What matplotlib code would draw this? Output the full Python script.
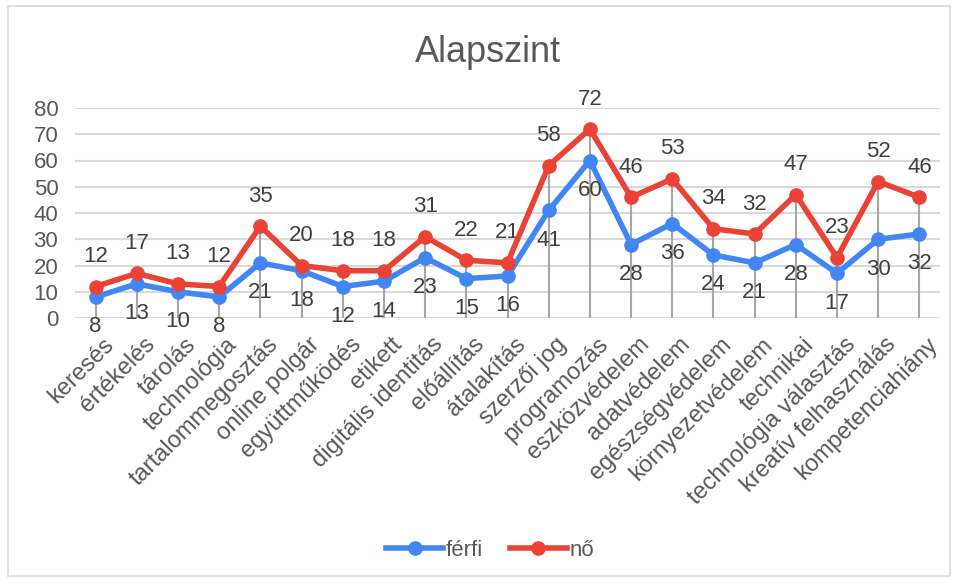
import matplotlib
matplotlib.use("Agg")
import matplotlib.pyplot as plt
import matplotlib.transforms as mtransforms
from matplotlib.patches import Rectangle

categories = ["keresés", "értékelés", "tárolás", "technológia", "tartalommegosztás",
              "online polgár", "együttműködés", "etikett", "digitális identitás",
              "előállítás", "átalakítás", "szerzői jog", "programozás", "eszközvédelem",
              "adatvédelem", "egészségvédelem", "környezetvédelem", "technikai",
              "technológia választás", "kreatív felhasználás", "kompetenciahiány"]
ferfi = [8, 13, 10, 8, 21, 18, 12, 14, 23, 15, 16, 41, 60, 28, 36, 24, 21, 28, 17, 30, 32]
no = [12, 17, 13, 12, 35, 20, 18, 18, 31, 22, 21, 58, 72, 46, 53, 34, 32, 47, 23, 52, 46]
yticks = [0, 10, 20, 30, 40, 50, 60, 70, 80]

plt.rcParams['font.family'] = ['Liberation Sans', 'DejaVu Sans']
txt = '#595959'
blue = '#4285F4'
red = '#EA4335'

fig = plt.figure(figsize=(9.58, 5.84), dpi=100)
ax = fig.add_axes([75/958, 1-318/584, (940-75)/958, (318-108)/584])

x = list(range(len(categories)))
for i in x:
    ax.plot([i, i], [0, max(ferfi[i], no[i])], color='#A6A6A6', lw=1.5, zorder=2)
ax.plot(x, ferfi, color=blue, lw=4, marker='o', ms=9.5, label='férfi', zorder=3)
ax.plot(x, no, color=red, lw=4, marker='o', ms=9.5, label='nő', zorder=4)

for i in x:
    ax.annotate(str(no[i]), (i, no[i]), xytext=(0, 14), textcoords='offset points',
                ha='center', va='bottom', fontsize=16, color='#404040')
    ax.annotate(str(ferfi[i]), (i, ferfi[i]), xytext=(0, -14), textcoords='offset points',
                ha='center', va='top', fontsize=16, color='#404040')

ax.set_xlim(-0.5, len(categories) - 0.5)
ax.set_ylim(0, 80)
ax.set_yticks(yticks)
ax.set_yticklabels([str(v) for v in yticks], fontsize=16, color=txt)
ax.set_xticks(x)
ax.set_xticklabels(categories, rotation=45, ha='right', rotation_mode='anchor',
                   fontsize=17, color=txt)
ax.tick_params(axis='both', length=0)
ax.tick_params(axis='y', pad=12)
ax.tick_params(axis='x', pad=11)
shift = mtransforms.ScaledTranslation(7/100, 0, fig.dpi_scale_trans)
for lab in ax.get_xticklabels():
    lab.set_transform(lab.get_transform() + shift)
ax.grid(axis='y', color='#D9D9D9', lw=1.5)
ax.set_axisbelow(True)
for s in ax.spines.values():
    s.set_visible(False)

fig.text(488/958, 1-52/584, 'Alapszint', ha='center', va='center', fontsize=26, color=txt)

handles, labels = ax.get_legend_handles_labels()
fig.legend(handles, labels, loc='center', bbox_to_anchor=(490/958, 1-550/584), ncol=2,
           frameon=False, fontsize=16, labelcolor=txt, handlelength=2.6,
           handletextpad=0.1, columnspacing=1.2)

fig.patches.append(Rectangle((8/958, 8/584), (950-8)/958, (578-8)/584, transform=fig.transFigure,
                             fill=False, edgecolor='#D9D9D9', lw=1.2))

fig.savefig('out.png', dpi=100)
